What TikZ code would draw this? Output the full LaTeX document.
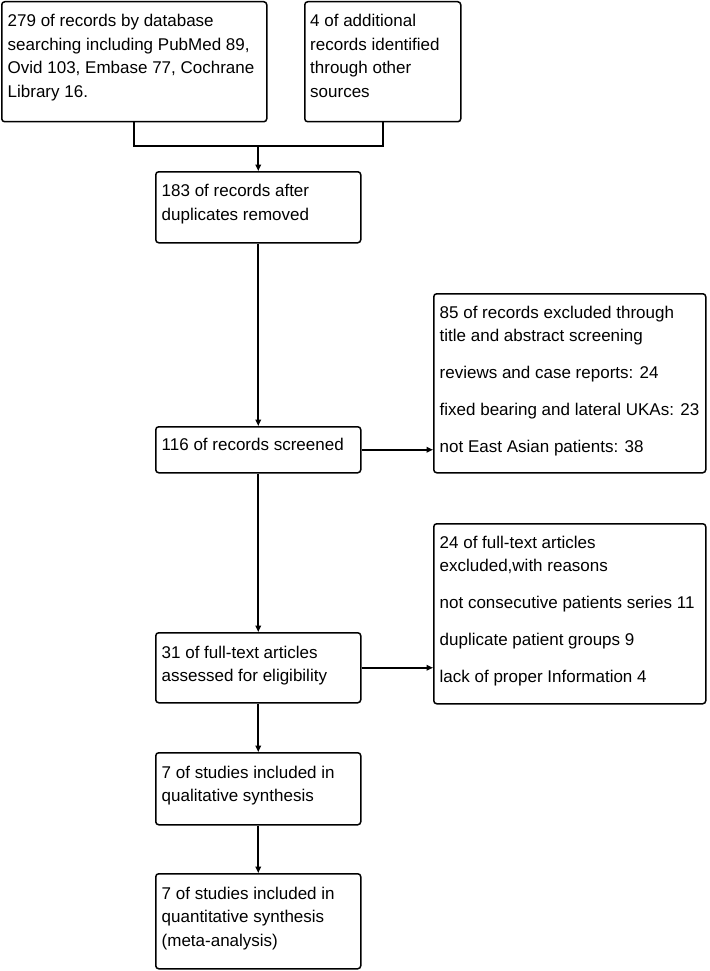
\documentclass[tikz,border=0pt]{standalone}
\usepackage{fontspec}
\setmainfont{Liberation Sans}
\usetikzlibrary{arrows.meta}
\newcommand\fstrut{\rule{0pt}{16pt}}
\begin{document}
\begin{tikzpicture}[x=1pt,y=-1pt,
  boxnode/.style={draw=black, line width=1.5pt, rounded corners=3pt, inner sep=0pt, anchor=north west},
  txt/.style={anchor=north west, inner sep=0pt, align=left, font=\fontsize{17pt}{23.5pt}\selectfont},
  conn/.style={line width=1.7pt},
  arr/.style={line width=1.7pt, -{Triangle[length=6.5pt,width=5.5pt]}}]
\useasboundingbox (0,0) rectangle (709,971);
% boxes
\node[boxnode, minimum width=265pt, minimum height=120pt] (A) at (1,1) {};
\node[boxnode, minimum width=156pt, minimum height=120pt] (B) at (304,1) {};
\node[boxnode, minimum width=205pt, minimum height=71pt] (C) at (155,171) {};
\node[boxnode, minimum width=205pt, minimum height=46pt] (D) at (155,426) {};
\node[boxnode, minimum width=272pt, minimum height=179pt] (E) at (433,293) {};
\node[boxnode, minimum width=205pt, minimum height=70pt] (F) at (155,632) {};
\node[boxnode, minimum width=272pt, minimum height=180pt] (G) at (433,523) {};
\node[boxnode, minimum width=205pt, minimum height=72pt] (H) at (155,752) {};
\node[boxnode, minimum width=205pt, minimum height=95pt] (I) at (155,873) {};
% texts
\node[txt] (tA) at (7.5,10.5) {\fstrut 279 of records by database\\searching including PubMed 89,\\Ovid 103, Embase 77, Cochrane\\Library 16.};
\node[txt] (tB) at (310,10.5) {\fstrut 4 of additional\\records identified\\through other\\sources};
\node[txt] (tC) at (161.5,180.5) {\fstrut 183 of records after\\duplicates removed};
\node[txt] (tD) at (161.5,434.5) {\fstrut 116 of records screened};
\node[txt] (tE) at (439.5,302) {\fstrut 85 of records excluded through\\title and abstract screening\\[13.5pt]reviews and case reports: 24\\[13.5pt]fixed bearing and lateral UKAs: 23\\[13.5pt]not East Asian patients: 38};
\node[txt] (tF) at (161.5,642) {\fstrut 31 of full-text articles\\assessed for eligibility};
\node[txt] (tG) at (439.5,532) {\fstrut 24 of full-text articles\\excluded,with reasons\\[13.5pt]not consecutive patients series 11\\[13.5pt]duplicate patient groups 9\\[13.5pt]lack of proper Information 4};
\node[txt] (tH) at (161.5,762) {\fstrut 7 of studies included in\\qualitative synthesis};
\node[txt] (tI) at (161.5,883) {\fstrut 7 of studies included in\\quantitative synthesis\\(meta-analysis)};
% connectors
\coordinate (j) at (C.north |- 0,146);
\draw[conn] (A.south) |- (j) -| (B.south);
\draw[arr] (j) -- (C.north);
\draw[arr] (C.south) -- (D.north);
\draw[arr] (D.east) -- (D.east -| E.west);
\draw[arr] (D.south) -- (F.north);
\draw[arr] (F.east) -- (F.east -| G.west);
\draw[arr] (F.south) -- (H.north);
\draw[arr] (H.south) -- (I.north);
\end{tikzpicture}
\end{document}
